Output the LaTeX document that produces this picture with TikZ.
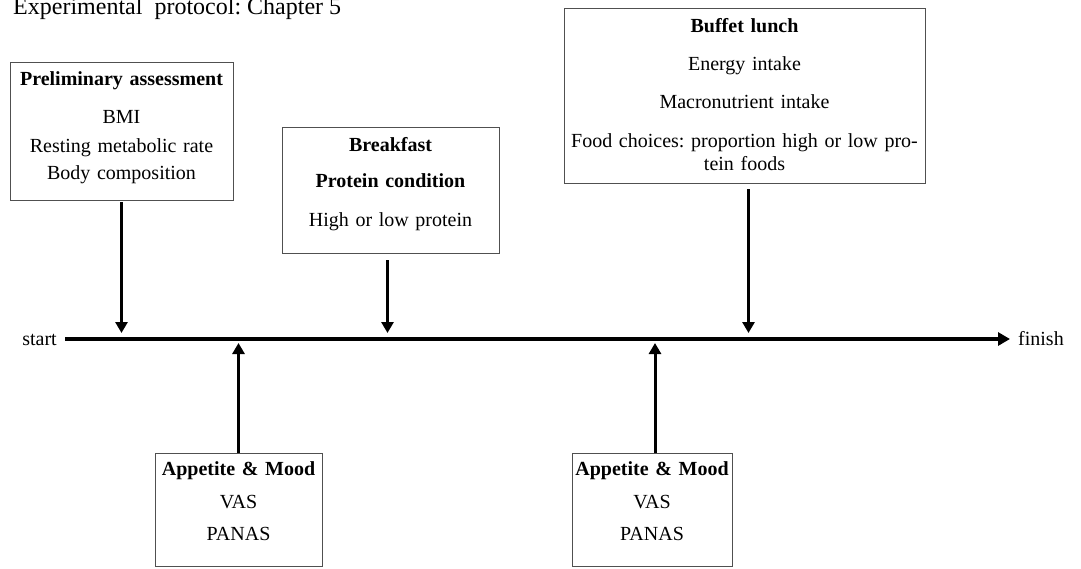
\documentclass[tikz,border=0pt]{standalone}
\usepackage{fontspec}
\setmainfont{Liberation Serif}
\frenchspacing
\usetikzlibrary{arrows.meta,positioning}
\definecolor{BoxGray}{HTML}{505050}
\tikzset{
  stagebox/.style={draw=BoxGray, line width=1pt, align=center, inner xsep=0pt, inner ysep=0pt, anchor=north, font=\fontsize{20}{23}\selectfont},
  arrow/.style={-{Triangle[length=11pt,width=12pt]}, line width=3pt},
  timeline/.style={-{Triangle[length=12pt,width=13pt]}, line width=4pt},
  endlabel/.style={font=\fontsize{20}{23}\selectfont, inner xsep=8pt, inner ysep=0pt}
}

\begin{document}
\begin{tikzpicture}[x=1pt, y=-1pt]
    \useasboundingbox (0,0) rectangle (1081,568);
    \node[anchor=base west, inner sep=0pt, font=\fontsize{24}{28}\selectfont] (title) at (13,14) {Experimental\ \ protocol: Chapter 5};

    % boxes above the time line
    \node[stagebox, text width=223pt, text height=23pt, text depth=115pt] (prelim) at (121.5,62)
      {\textbf{Preliminary assessment}\\[15pt] BMI\\[6pt] Resting metabolic rate\\[4pt] Body composition};
    \node[stagebox, text width=217pt, text height=24pt, text depth=102pt] (brkfst) at (390.5,127)
      {\textbf{Breakfast}\\[13pt] \textbf{Protein condition}\\[16pt] High or low protein};
    \node[stagebox, text width=361pt, text height=24pt, text depth=151pt] (buffet) at (744.5,8)
      {\textbf{Buffet lunch}\\[15pt] Energy intake\\[15pt] Macronutrient intake\\[16pt] Food choices: proportion high or low pro-\\ tein foods};

    % boxes below the time line
    \node[stagebox, text width=167pt, text height=22pt, text depth=91pt] (mood1) at (238.5,453)
      {\textbf{Appetite \& Mood}\\[10pt] VAS\\[9pt] PANAS};
    \node[stagebox, text width=160pt, text height=22pt, text depth=91pt] (mood2) at (652,453)
      {\textbf{Appetite \& Mood}\\[10pt] VAS\\[9pt] PANAS};

    % time line
    \coordinate (tl) at (0,339);
    \node[endlabel, anchor=base east] (startlbl) at (65,345) {start};
    \node[endlabel, anchor=base west] (finishlbl) at (1010,345) {finish};
    \draw[timeline] (startlbl.east |- tl) -- (finishlbl.west |- tl);

    \draw[arrow, shorten <=1pt, shorten >=6pt] (prelim.south) -- (prelim.south |- tl);
    \draw[arrow, shorten <=6pt, shorten >=6pt] ([xshift=-3pt]brkfst.south) -- ([xshift=-3pt]brkfst.south |- tl);
    \draw[arrow, shorten <=5pt, shorten >=6pt] ([xshift=4pt]buffet.south) -- ([xshift=4pt]buffet.south |- tl);
    \draw[arrow, shorten >=4pt] (mood1.north) -- (mood1.north |- tl);
    \draw[arrow, shorten >=4pt] ([xshift=3pt]mood2.north) -- ([xshift=3pt]mood2.north |- tl);
  \end{tikzpicture}
\end{document}
